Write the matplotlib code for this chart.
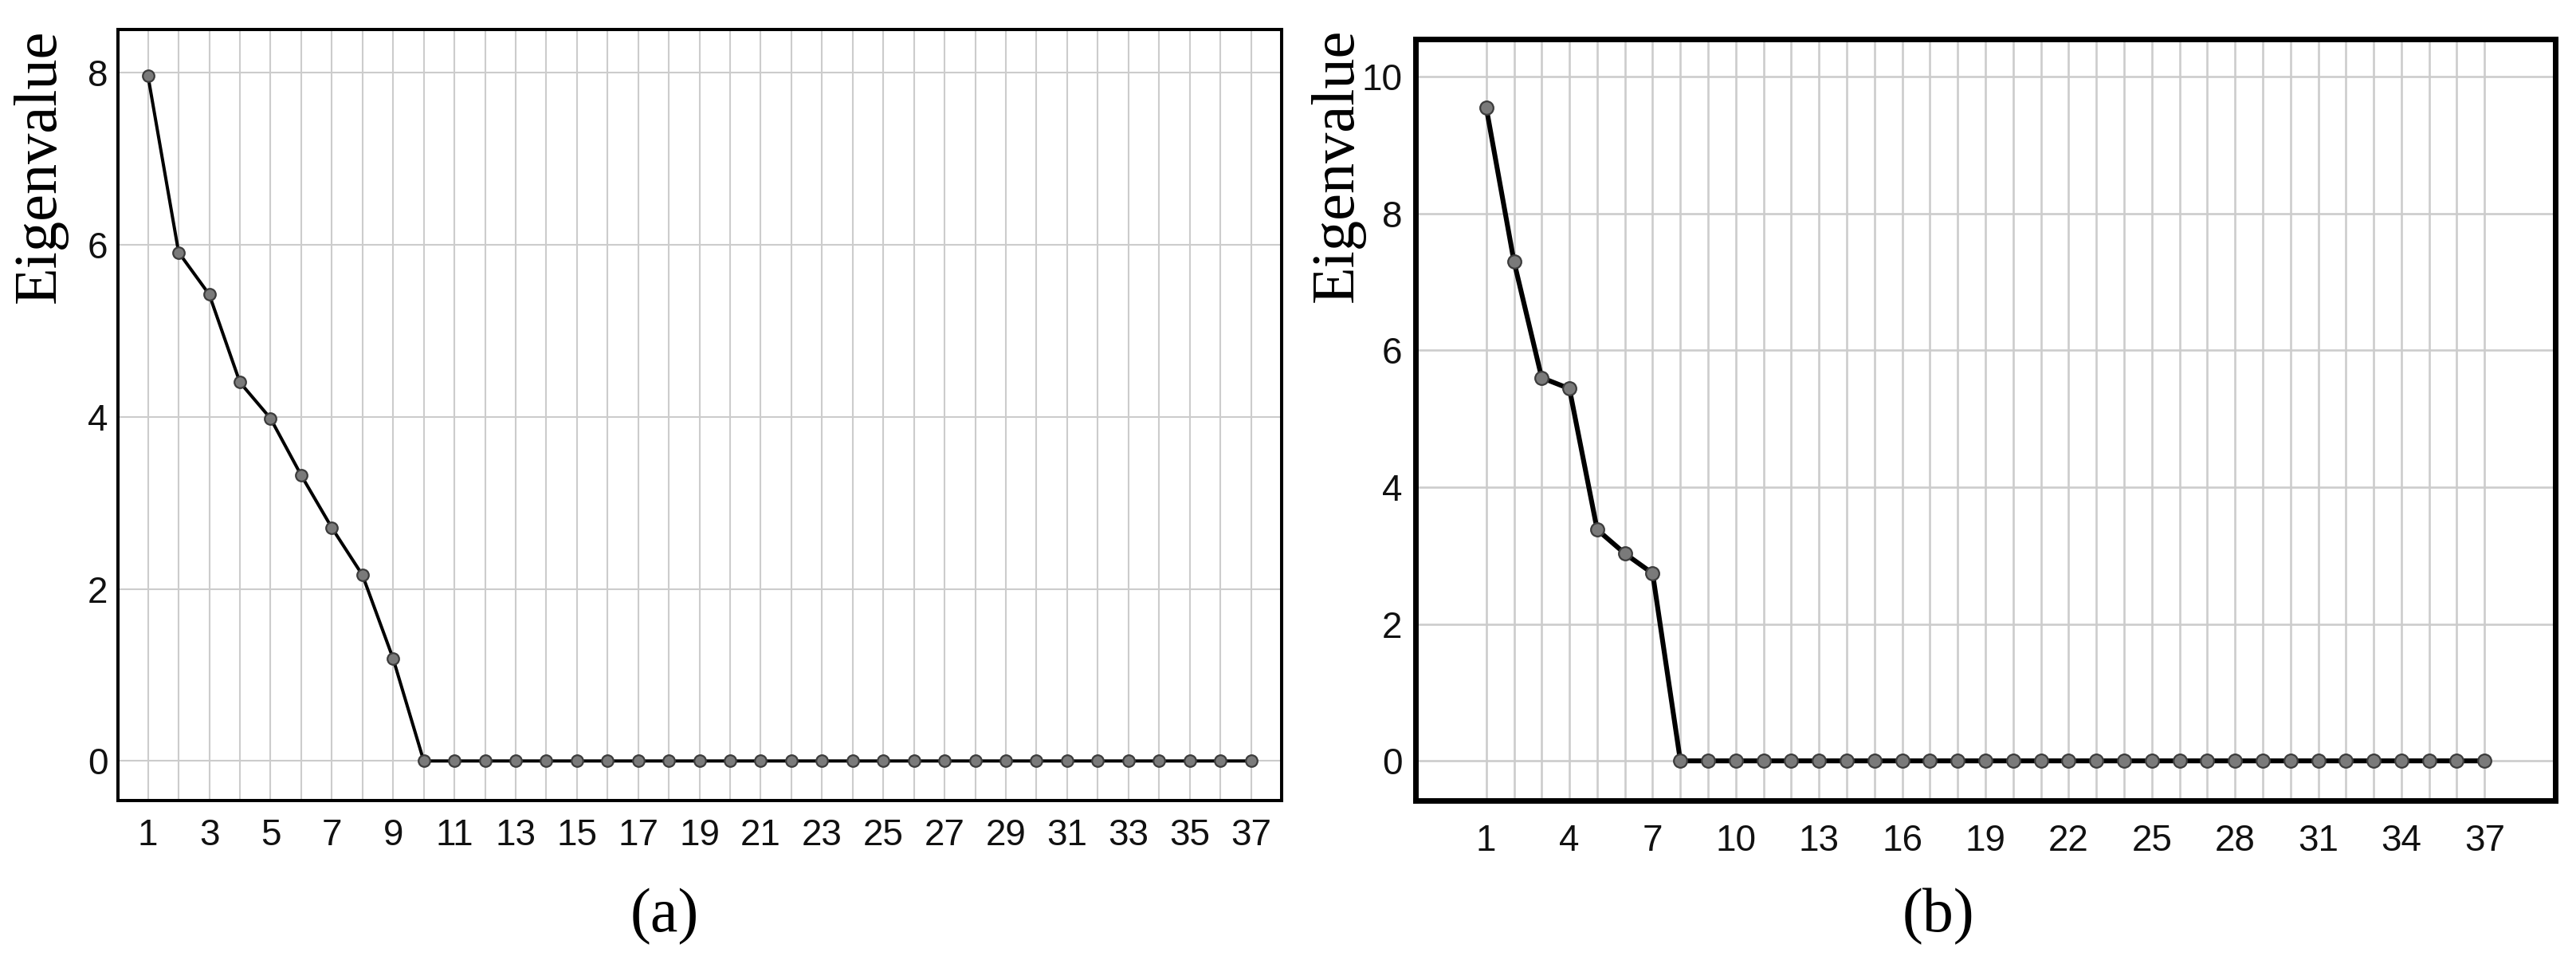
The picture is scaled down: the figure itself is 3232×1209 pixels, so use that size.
import matplotlib
matplotlib.use("Agg")
import matplotlib.pyplot as plt

# ---- data ----
components = list(range(1, 38))
eig_a = [7.96, 5.91, 5.42, 4.40, 3.98, 3.32, 2.71, 2.16, 1.19] + [0.0] * 28
eig_b = [9.55, 7.30, 5.60, 5.44, 3.38, 3.03, 2.74] + [0.0] * 30
yticks_a = [0, 2, 4, 6, 8]
yticks_b = [0, 2, 4, 6, 8, 10]
xlabels_a = [str(c) if (c - 1) % 2 == 0 else "" for c in components]
xlabels_b = [str(c) if (c - 1) % 3 == 0 else "" for c in components]
ylabel = "Eigenvalue"
captions = ["(a)", "(b)"]

W, H = 3232, 1209
fig = plt.figure(figsize=(W / 100, H / 100), dpi=100)

sans = ["Liberation Sans", "DejaVu Sans"]
serif = ["Liberation Serif", "DejaVu Serif"]


def px(x0, y0, x1, y1):
    return [x0 / W, 1 - y1 / H, (x1 - x0) / W, (y1 - y0) / H]


ax_a = fig.add_axes(px(148, 37, 1608, 1004))
ax_b = fig.add_axes(px(1776, 49, 3206, 1004))

configs = [
    (ax_a, eig_a, yticks_a, xlabels_a, (0.02, 38.0), (-0.46, 8.5), 2.9, 10.5, 2.9, 1.5, 9, 16),
    (ax_b, eig_b, yticks_b, xlabels_b, (-1.55, 39.55), (-0.58, 10.55), 4.4, 12.0, 5.0, 1.9, 12, 21),
]

for ax, vals, yt, xl, xlim, ylim, lw, ms, spw, gw, ypad, xpad in configs:
    ax.plot(components, vals, color="black", lw=lw, zorder=3,
            marker="o", ms=ms, mfc="#7a7a7a", mec="#3c3c3c", mew=1.6)
    ax.set_xlim(*xlim)
    ax.set_ylim(*ylim)
    ax.set_xticks(components)
    ax.set_xticklabels(xl)
    ax.set_yticks(yt)
    ax.set_yticklabels([str(v) for v in yt])
    ax.grid(True, color="#cccccc", lw=gw, zorder=0)
    ax.set_axisbelow(True)
    for s in ax.spines.values():
        s.set_linewidth(spw)
        s.set_color("black")
    ax.tick_params(axis="both", length=0, labelsize=33, colors="#111111")
    ax.tick_params(axis="y", pad=ypad)
    ax.tick_params(axis="x", pad=xpad)
    for lab in ax.get_xticklabels() + ax.get_yticklabels():
        lab.set_fontfamily(sans)

fig.text(50 / W, 1 - 208 / H, ylabel, rotation=90, ha="center", va="center",
         fontsize=55, family=serif)
fig.text(1678 / W, 1 - 207 / H, ylabel, rotation=90, ha="center", va="center",
         fontsize=55, family=serif)

fig.text(834 / W, 1 - 1150 / H, captions[0], ha="center", va="center",
         fontsize=56, family=serif)
fig.text(2432 / W, 1 - 1150 / H, captions[1], ha="center", va="center",
         fontsize=56, family=serif)

fig.savefig("out.png", dpi=100, facecolor="white")
